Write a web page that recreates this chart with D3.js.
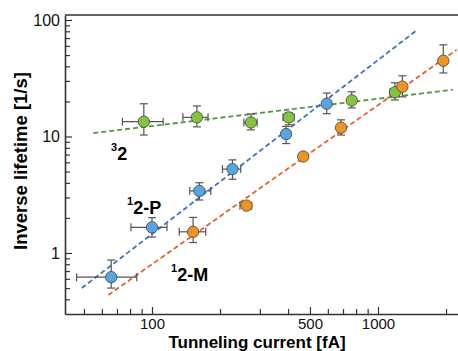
<!DOCTYPE html>
<html>
<head>
<meta charset="utf-8">
<script src="https://cdn.jsdelivr.net/npm/d3@7"></script>
<style>
  body { margin: 0; background: #fff; }
  svg { display: block; font-family: "Liberation Sans", Arial, sans-serif; }
</style>
</head>
<body>
<svg id="chart"></svg>
<script>
'use strict';

// data: x = current [fA], y = inverse lifetime [1/s]
// rows: [x, y, xLo, xHi, yLo, yHi]
var triplet = [
  [92, 13.4, 74, 112, 10.3, 19.1],
  [158, 14.6, 137, 177, 12.1, 18.3],
  [274, 13.2, 255, 292, 11.4, 15.6],
  [403, 14.6, 380, 425, 12.6, 16.0],
  [765, 20.4, 765, 765, 17.6, 24.2],
  [1189, 24.0, 1130, 1238, 20.6, 28.9]
];
var singletP = [
  [66, 0.62, 46.4, 85.6, 0.50, 0.87],
  [100, 1.66, 80.7, 116.5, 1.37, 2.01],
  [162, 3.41, 147, 182, 2.85, 4.01],
  [227, 5.25, 205, 247, 4.3, 6.3],
  [392, 10.5, 392, 392, 8.7, 12.2],
  [593, 19.1, 593, 593, 15.7, 23.6]
];
var singletM = [
  [152, 1.52, 132, 173, 1.23, 2.02],
  [262, 2.55, 245, 276, 2.42, 2.7],
  [467, 6.73, 467, 467, 6.35, 7.1],
  [686, 11.9, 686, 686, 10.3, 13.9],
  [1282, 26.8, 1282, 1282, 21.9, 33.2],
  [1945, 44.7, 1945, 1945, 35.1, 61.2]
];

// dashed fits: end points
var fitTriplet = [[55, 10.7], [2140, 25.2]];
var fitP = [[48.9, 0.50], [1472, 80.7]];
var fitM = [[64.1, 0.436], [2228, 55.5]];

// ticks
var xMajor = [100, 500, 1000];
var xMinor = [50, 60, 70, 80, 90, 200, 300, 400, 600, 700, 800, 900, 2000];
var yMajor = [1, 10, 100];
var yMinor = [0.4, 0.5, 0.6, 0.7, 0.8, 0.9, 2, 3, 4, 5, 6, 7, 8, 9, 20, 30, 40, 50, 60, 70, 80, 90];

// labels
var seriesLabels = [
  { sup: '3', txt: '2', x: 111, y: 156 },
  { sup: '1', txt: '2-P', x: 127, y: 210 },
  { sup: '1', txt: '2-M', x: 171, y: 277 }
];

// chart size
var W = 458, H = 351;
var plotL = 65, plotT = 15, plotR = 458, plotB = 314;

var svg = d3.select('#chart').attr('width', W).attr('height', H);

// scales: calibrated on the decade ticks, then stretched to the frame
var x0 = d3.scaleLog().domain([100, 1000]).range([152, 378]);
var y0 = d3.scaleLog().domain([1, 100]).range([253, 20]);
var x = d3.scaleLog().domain([x0.invert(plotL), x0.invert(plotR)]).range([plotL, plotR]);
var y = d3.scaleLog().domain([y0.invert(plotB), y0.invert(plotT)]).range([plotB, plotT]);

var axisColor = '#333';

// minor ticks
svg.append('g')
  .attr('transform', 'translate(0,' + plotB + ')')
  .call(d3.axisBottom(x).tickValues(xMinor).tickFormat('').tickSize(-5).tickSizeOuter(0))
  .call(function(g){ g.select('.domain').remove(); });
svg.append('g')
  .attr('transform', 'translate(' + plotL + ',0)')
  .call(d3.axisLeft(y).tickValues(yMinor).tickFormat('').tickSize(-5).tickSizeOuter(0))
  .call(function(g){ g.select('.domain').remove(); });

// major ticks + labels
var xAxis = svg.append('g')
  .attr('transform', 'translate(0,' + plotB + ')')
  .call(d3.axisBottom(x).tickValues(xMajor).tickFormat(d3.format('d')).tickSize(-7).tickSizeOuter(0).tickPadding(4));
var yAxis = svg.append('g')
  .attr('transform', 'translate(' + plotL + ',0)')
  .call(d3.axisLeft(y).tickValues(yMajor).tickFormat(d3.format('d')).tickSize(-7).tickSizeOuter(0).tickPadding(5));

xAxis.selectAll('text').style('font-size', '15px').attr('fill', '#111');
yAxis.selectAll('text').style('font-size', '16px').attr('fill', '#111');
svg.selectAll('.tick line').attr('stroke', axisColor).attr('stroke-width', 1.2);
svg.selectAll('.domain').attr('stroke', axisColor).attr('stroke-width', 1.6);

// top frame line
svg.append('line')
  .attr('x1', plotL).attr('x2', plotR).attr('y1', plotT).attr('y2', plotT)
  .attr('stroke', axisColor).attr('stroke-width', 1.6);

// axis titles
svg.append('text')
  .attr('x', 257).attr('y', 348)
  .attr('text-anchor', 'middle')
  .style('font-size', '17px').style('font-weight', 'bold')
  .text('Tunneling current [fA]');
svg.append('text')
  .attr('transform', 'translate(27,161) rotate(-90)')
  .attr('text-anchor', 'middle')
  .style('font-size', '18.5px').style('font-weight', 'bold')
  .text('Inverse lifetime [1/s]');

// fit lines
var line = d3.line()
  .x(function(d){ return x(d[0]); })
  .y(function(d){ return y(d[1]); });

function fit(pts, color){
  svg.append('path').datum(pts)
    .attr('fill', 'none').attr('stroke', color)
    .attr('stroke-width', 1.8).attr('stroke-dasharray', '5,3')
    .attr('d', line);
}
fit(fitTriplet, '#4f9a3c');
fit(fitP, '#3f72c6');
fit(fitM, '#e4622c');

// error bars + points
var cap = 4;
function series(rows, fillColor){
  var g = svg.append('g');
  rows.forEach(function(r){
    var px = x(r[0]), py = y(r[1]);
    var eb = g.append('g').attr('stroke', '#555').attr('stroke-width', 1.2);
    if (r[2] !== r[3]) {
      eb.append('line').attr('x1', x(r[2])).attr('x2', x(r[3])).attr('y1', py).attr('y2', py);
      eb.append('line').attr('x1', x(r[2])).attr('x2', x(r[2])).attr('y1', py - cap).attr('y2', py + cap);
      eb.append('line').attr('x1', x(r[3])).attr('x2', x(r[3])).attr('y1', py - cap).attr('y2', py + cap);
    }
    eb.append('line').attr('x1', px).attr('x2', px).attr('y1', y(r[4])).attr('y2', y(r[5]));
    eb.append('line').attr('x1', px - cap).attr('x2', px + cap).attr('y1', y(r[4])).attr('y2', y(r[4]));
    eb.append('line').attr('x1', px - cap).attr('x2', px + cap).attr('y1', y(r[5])).attr('y2', y(r[5]));
  });
  g.selectAll('circle').data(rows).enter().append('circle')
    .attr('cx', function(d){ return x(d[0]); })
    .attr('cy', function(d){ return y(d[1]); })
    .attr('r', 5.7)
    .attr('fill', fillColor)
    .attr('stroke', '#444').attr('stroke-width', 0.8);
}
series(triplet, '#84c340');
series(singletP, '#58a6e0');
series(singletM, '#ef9322');

// series labels with superscripts
seriesLabels.forEach(function(l){
  var t = svg.append('text')
    .attr('x', l.x).attr('y', l.y)
    .style('font-size', '18px').style('font-weight', 'bold');
  t.append('tspan').attr('dy', '-0.5em').style('font-size', '11px').text(l.sup);
  t.append('tspan').attr('dy', '0.5em').text(l.txt);
});
</script>
</body>
</html>
